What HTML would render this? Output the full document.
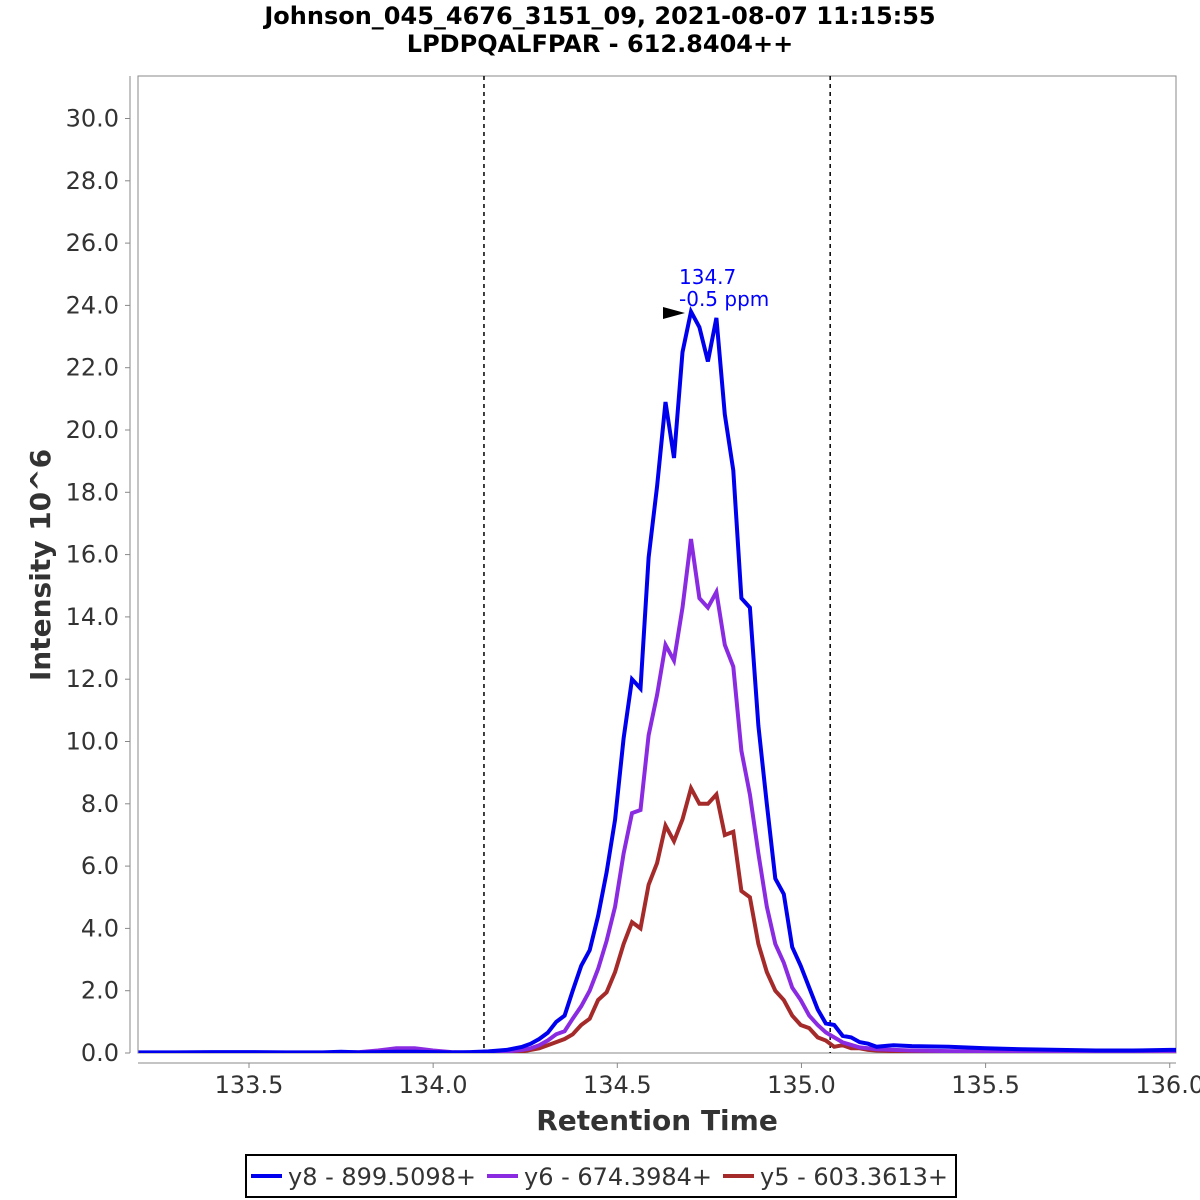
<!DOCTYPE html>
<html><head><meta charset="utf-8"><style>
html,body{margin:0;padding:0;background:#fff}
svg{display:block;font-family:"DejaVu Sans","Liberation Sans",sans-serif}
</style></head><body>
<svg id="chart" width="1200" height="1200" viewBox="0 0 1200 1200">
<text x="600" y="24" text-anchor="middle" font-size="24" font-weight="bold" fill="#000">Johnson_045_4676_3151_09, 2021-08-07 11:15:55</text>
<text x="600" y="52" text-anchor="middle" font-size="24" font-weight="bold" fill="#000">LPDPQALFPAR - 612.8404++</text>
<rect x="138" y="76" width="1038" height="977" fill="#fff" stroke="#888" stroke-width="1"/>
<g id="yaxis"></g>
<g id="xaxis"></g>
<g id="bounds"></g>
<g id="series"></g>
<text x="50" y="565" transform="rotate(-90 50 565)" text-anchor="middle" font-size="28" font-weight="bold" fill="#333">Intensity 10^6</text>
<text x="657" y="1130" text-anchor="middle" font-size="28" font-weight="bold" fill="#333">Retention Time</text>
<g>
<text x="679" y="284" font-size="20" fill="#0000ff">134.7</text>
<text x="679" y="306" font-size="20" fill="#0000ff">-0.5 ppm</text>
<polygon points="663,307 685,313 663,319" fill="#000"/>
</g>
<g>
<rect x="246" y="1155" width="710" height="42" fill="#fff" stroke="#000" stroke-width="2"/>
<line x1="251" y1="1176" x2="282" y2="1176" stroke="#0000ee" stroke-width="4"/>
<text x="288" y="1185" font-size="24" fill="#333">y8 - 899.5098+</text>
<line x1="487" y1="1176" x2="518" y2="1176" stroke="#8a2be2" stroke-width="4"/>
<text x="524" y="1185" font-size="24" fill="#333">y6 - 674.3984+</text>
<line x1="723" y1="1176" x2="754" y2="1176" stroke="#a52a2a" stroke-width="4"/>
<text x="760" y="1185" font-size="24" fill="#333">y5 - 603.3613+</text>
</g>
</svg>
<script>
const times = [133.2,133.3,133.4,133.5,133.6,133.7,133.75,133.8,133.85,133.9,133.95,134.0,134.05,134.1,134.15,134.2,
134.242,134.265,134.288,134.311,134.334,134.357,134.379,134.402,134.425,134.448,134.471,134.494,134.517,134.540,134.563,134.585,134.608,134.631,134.654,134.677,
134.700,134.723,134.746,134.769,134.792,134.815,134.837,134.860,134.883,134.906,134.929,134.952,134.975,134.998,135.021,135.044,135.066,135.089,135.112,135.135,135.158,135.181,135.204,
135.25,135.3,135.4,135.5,135.6,135.7,135.8,135.9,136.0,136.02];
const y8 = [0.02,0.02,0.03,0.03,0.02,0.02,0.04,0.02,0.03,0.04,0.04,0.03,0.02,0.03,0.05,0.1,
0.2,0.3,0.45,0.65,1.0,1.2,2.0,2.8,3.3,4.4,5.8,7.5,10.1,12.0,11.7,15.9,18.2,20.9,19.1,22.5,
23.8,23.3,22.2,23.6,20.5,18.7,14.6,14.3,10.5,8.0,5.6,5.1,3.4,2.8,2.1,1.4,0.95,0.9,0.55,0.5,0.35,0.3,0.2,
0.25,0.22,0.2,0.15,0.12,0.1,0.08,0.08,0.1,0.1];
const y6 = [0.0,0.0,0.01,0.01,0.0,0.0,0.02,0.03,0.08,0.15,0.15,0.08,0.03,0.01,0.02,0.05,
0.1,0.15,0.25,0.4,0.6,0.7,1.1,1.5,2.0,2.7,3.6,4.7,6.4,7.7,7.8,10.2,11.5,13.1,12.6,14.3,
16.5,14.6,14.3,14.8,13.1,12.4,9.7,8.3,6.4,4.7,3.5,2.9,2.1,1.7,1.2,0.9,0.66,0.5,0.34,0.26,0.18,0.15,0.12,
0.1,0.08,0.06,0.05,0.04,0.03,0.03,0.03,0.03,0.03];
const y5 = [0.0,0.0,0.0,0.01,0.0,0.0,0.01,0.01,0.02,0.03,0.03,0.02,0.01,0.0,0.0,0.01,
0.05,0.1,0.15,0.25,0.35,0.45,0.6,0.9,1.1,1.7,1.95,2.6,3.5,4.2,4.0,5.4,6.1,7.3,6.8,7.5,
8.5,8.0,8.0,8.3,7.0,7.1,5.2,5.0,3.5,2.6,2.0,1.7,1.2,0.9,0.8,0.5,0.4,0.2,0.25,0.15,0.15,0.1,0.08,
0.06,0.05,0.04,0.03,0.02,0.02,0.01,0.01,0.01,0.01];
const yTicks = [0,2,4,6,8,10,12,14,16,18,20,22,24,26,28,30];
const xTicks = [133.5,134.0,134.5,135.0,135.5,136.0];
const boundaries = [134.138,135.078];
const seriesNames = ["y8","y6","y5"];
const seriesColors = ["#0000ee","#8a2be2","#a52a2a"];

const NS = "http://www.w3.org/2000/svg";
const X0 = 138, X1 = 1176, Y0 = 1053;
function xs(t){ return 249 + (t - 133.5) * 368.3; }
function ys(v){ return Y0 - v * 31.15; }
function mk(tag, attrs, parent){
  const e = document.createElementNS(NS, tag);
  for (const k in attrs) e.setAttribute(k, attrs[k]);
  parent.appendChild(e); return e;
}
const ya = document.getElementById('yaxis');
const yl = mk('line',{x1:130,y1:76,x2:130,y2:1053,stroke:'#888'},ya);


yTicks.forEach(v=>{
  const y = ys(v);
  const tk = mk('line',{x1:125,y1:y,x2:130,y2:y,stroke:'#888'},ya);
  
  
  const tx = mk('text',{x:119,y:y+8,'text-anchor':'end','font-size':24,fill:'#333'},ya);
  tx.textContent = v.toFixed(1);
  
  
});
const xa = document.getElementById('xaxis');
const xl = mk('line',{x1:138,y1:1063,x2:1176,y2:1063,stroke:'#888'},xa);


xTicks.forEach(t=>{
  const x = xs(t);
  const tk = mk('line',{x1:x,y1:1063,x2:x,y2:1068,stroke:'#888'},xa);
  
  
  const tx = mk('text',{x:x,y:1093,'text-anchor':'middle','font-size':24,fill:'#333'},xa);
  tx.textContent = t.toFixed(1);
  
  
});
const bg = document.getElementById('bounds');
boundaries.forEach(t=>{
  const x = xs(t);
  const l = mk('line',{x1:x,y1:76,x2:x,y2:1053,stroke:'#000','stroke-width':1.5,'stroke-dasharray':'4,4'},bg);
  
  
});
const sg = document.getElementById('series');
const clip = mk('clipPath',{id:'pc'},mk('defs',{},sg));
mk('rect',{x:X0,y:76,width:X1-X0,height:977},clip);
[y5,y6,y8].forEach((arr,i)=>{
  const idx = 2 - i;
  const pts = times.map((t,j)=>xs(t).toFixed(1)+','+ys(arr[j]).toFixed(1)).join(' ');
  const pl = mk('polyline',{points:pts,fill:'none',stroke:seriesColors[idx],'stroke-width':4,'stroke-linejoin':'miter','clip-path':'url(#pc)'},sg);
  
  
});
</script>
</body></html>
